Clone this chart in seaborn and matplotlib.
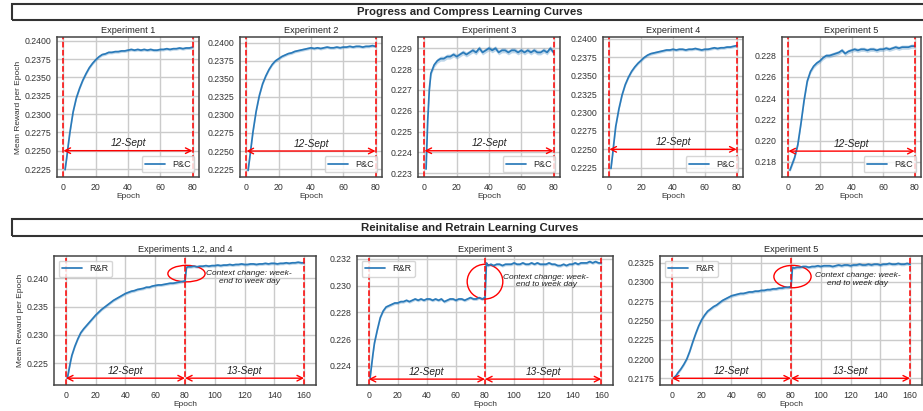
import numpy as np
import pandas as pd
import seaborn as sns
from matplotlib import pyplot as plt
from matplotlib.patches import Ellipse, Rectangle
from matplotlib.ticker import MultipleLocator, FormatStrFormatter

# ---- data ----
top_epochs = [1, 2, 3, 4] + list(range(6, 81, 2))
rr_epochs = [1, 2, 3, 4] + list(range(6, 81, 2)) + [81] + list(range(82, 161, 2))

pc_exp1 = [0.2224, 0.2240, 0.2258, 0.2275, 0.2303, 0.2322, 0.2335, 0.2346, 0.2355, 0.2363,
           0.2369, 0.2374, 0.2378, 0.2381, 0.2382, 0.2384, 0.2384, 0.2385, 0.2385, 0.2386,
           0.2386, 0.2387, 0.2388, 0.2387, 0.2388, 0.2387, 0.2388, 0.2387, 0.2388, 0.2387,
           0.2387, 0.2388, 0.2388, 0.2389, 0.2388, 0.2389, 0.2389, 0.2390, 0.2389, 0.2390,
           0.2390, 0.2391]
pc_exp2 = [0.2223, 0.2240, 0.2258, 0.2276, 0.2305, 0.2327, 0.2343, 0.2354, 0.2363, 0.2370,
           0.2375, 0.2378, 0.2381, 0.2383, 0.2385, 0.2386, 0.2388, 0.2389, 0.2390, 0.2391,
           0.2392, 0.2393, 0.2392, 0.2393, 0.2392, 0.2393, 0.2394, 0.2393, 0.2393, 0.2394,
           0.2393, 0.2394, 0.2394, 0.2395, 0.2394, 0.2395, 0.2395, 0.2394, 0.2395, 0.2395,
           0.2396, 0.2395]
pc_exp3 = [0.2232, 0.2255, 0.2270, 0.2278, 0.2282, 0.2284, 0.2285, 0.2285, 0.2286, 0.2286,
           0.2287, 0.2286, 0.2287, 0.2288, 0.2287, 0.2288, 0.2289, 0.2288, 0.2290, 0.2288,
           0.2289, 0.2290, 0.2289, 0.2290, 0.2288, 0.2289, 0.2289, 0.2288, 0.2289, 0.2289,
           0.2288, 0.2289, 0.2288, 0.2289, 0.2288, 0.2289, 0.2288, 0.2288, 0.2289, 0.2288,
           0.2290, 0.2288]
pc_exp4 = [0.2224, 0.2242, 0.2262, 0.2281, 0.2305, 0.2324, 0.2338, 0.2348, 0.2356, 0.2362,
           0.2367, 0.2371, 0.2375, 0.2378, 0.2380, 0.2381, 0.2382, 0.2383, 0.2384, 0.2385,
           0.2385, 0.2386, 0.2385, 0.2386, 0.2386, 0.2385, 0.2386, 0.2386, 0.2387, 0.2386,
           0.2385, 0.2386, 0.2386, 0.2387, 0.2388, 0.2387, 0.2388, 0.2388, 0.2389, 0.2389,
           0.2390, 0.2391]
pc_exp5 = [0.2172, 0.2176, 0.2180, 0.2184, 0.2196, 0.2216, 0.2238, 0.2256, 0.2265, 0.2270,
           0.2273, 0.2275, 0.2278, 0.2280, 0.2280, 0.2281, 0.2282, 0.2283, 0.2285, 0.2282,
           0.2284, 0.2285, 0.2286, 0.2285, 0.2286, 0.2286, 0.2285, 0.2286, 0.2286, 0.2285,
           0.2286, 0.2286, 0.2287, 0.2286, 0.2287, 0.2288, 0.2287, 0.2288, 0.2288, 0.2288,
           0.2289, 0.2289]

rr_exp124 = [0.2224, 0.2238, 0.2252, 0.2264, 0.2280, 0.2293, 0.2304, 0.2311, 0.2317, 0.2323,
             0.2329, 0.2335, 0.2340, 0.2345, 0.2349, 0.2353, 0.2357, 0.2361, 0.2364, 0.2367,
             0.2370, 0.2373, 0.2375, 0.2377, 0.2378, 0.2380, 0.2381, 0.2382, 0.2384, 0.2384,
             0.2386, 0.2387, 0.2388, 0.2388, 0.2389, 0.2390, 0.2391, 0.2391, 0.2392, 0.2393,
             0.2394, 0.2395, 0.2419, 0.2420, 0.2420, 0.2421, 0.2420, 0.2421, 0.2421, 0.2422,
             0.2421, 0.2422, 0.2422, 0.2423, 0.2422, 0.2423, 0.2423, 0.2424, 0.2423, 0.2424,
             0.2424, 0.2425, 0.2424, 0.2424, 0.2425, 0.2425, 0.2424, 0.2425, 0.2425, 0.2426,
             0.2425, 0.2426, 0.2426, 0.2425, 0.2426, 0.2426, 0.2427, 0.2426, 0.2427, 0.2427,
             0.2428, 0.2427, 0.2427]
rr_exp3 = [0.2231, 0.2240, 0.2249, 0.2257, 0.2267, 0.2276, 0.2281, 0.2284, 0.2285, 0.2286,
           0.2287, 0.2287, 0.2288, 0.2288, 0.2289, 0.2288, 0.2289, 0.2290, 0.2289, 0.2290,
           0.2289, 0.2290, 0.2290, 0.2289, 0.2290, 0.2289, 0.2290, 0.2288, 0.2289, 0.2290,
           0.2290, 0.2289, 0.2290, 0.2290, 0.2289, 0.2290, 0.2291, 0.2290, 0.2290, 0.2291,
           0.2290, 0.2291, 0.2317, 0.2315, 0.2316, 0.2315, 0.2316, 0.2316, 0.2315, 0.2316,
           0.2316, 0.2316, 0.2317, 0.2316, 0.2316, 0.2317, 0.2316, 0.2316, 0.2317, 0.2316,
           0.2317, 0.2316, 0.2316, 0.2316, 0.2317, 0.2316, 0.2316, 0.2315, 0.2315, 0.2316,
           0.2315, 0.2316, 0.2316, 0.2317, 0.2316, 0.2317, 0.2317, 0.2317, 0.2318, 0.2317,
           0.2318, 0.2317, 0.2317]
rr_exp5 = [0.2175, 0.2177, 0.2179, 0.2182, 0.2187, 0.2193, 0.2200, 0.2210, 0.2222, 0.2233,
           0.2243, 0.2251, 0.2257, 0.2262, 0.2265, 0.2268, 0.2270, 0.2273, 0.2276, 0.2278,
           0.2280, 0.2282, 0.2283, 0.2284, 0.2285, 0.2285, 0.2286, 0.2287, 0.2287, 0.2288,
           0.2288, 0.2289, 0.2289, 0.2290, 0.2290, 0.2291, 0.2291, 0.2292, 0.2292, 0.2293,
           0.2293, 0.2294, 0.2319, 0.2318, 0.2319, 0.2319, 0.2320, 0.2320, 0.2319, 0.2320,
           0.2320, 0.2321, 0.2320, 0.2321, 0.2321, 0.2321, 0.2320, 0.2321, 0.2322, 0.2321,
           0.2322, 0.2322, 0.2321, 0.2322, 0.2322, 0.2323, 0.2322, 0.2322, 0.2323, 0.2322,
           0.2323, 0.2323, 0.2322, 0.2323, 0.2323, 0.2324, 0.2323, 0.2323, 0.2324, 0.2323,
           0.2323, 0.2324, 0.2323]

pc_series = [pc_exp1, pc_exp2, pc_exp3, pc_exp4, pc_exp5]
pc_titles = ["Experiment 1", "Experiment 2", "Experiment 3", "Experiment 4", "Experiment 5"]
pc_spread = [0.0002, 0.0002, 0.00012, 0.0002, 0.0002]

rr_series = [rr_exp124, rr_exp3, rr_exp5]
rr_titles = ["Experiments 1,2, and 4", "Experiment 3", "Experiment 5"]
rr_spread = [0.00025, 0.00011, 0.0002]

# ---- layout / annotation settings ----
pc_ylim = [(0.22141, 0.24050), (0.22140, 0.24080), (0.22282, 0.22954), (0.22124, 0.24027), (0.21656, 0.22976)]
pc_ystep = [0.0025, 0.0025, 0.001, 0.0025, 0.002]
pc_fmt = ['%.4f', '%.4f', '%.3f', '%.4f', '%.3f']
pc_arrow_y = [0.2250, 0.2250, 0.22408, 0.2250, 0.2190]

rr_ylim = [(0.2212, 0.2439), (0.22256, 0.23222), (0.21663, 0.23337)]
rr_ystep = [0.005, 0.002, 0.0025]
rr_fmt = ['%.3f', '%.3f', '%.4f']
rr_arrow_y = [0.2224, 0.2230, 0.2175]
rr_ellipse = [(81, 0.2408, 25, 0.0029), (80, 0.2303, 24.5, 0.0026), (81, 0.2307, 25, 0.0029)]
rr_context_xy = [(123, 0.2401), (122, 0.23035), (125, 0.2303)]

W, H = 923, 411
pc_boxes = [(57, 199), (240, 382), (418, 560), (603, 743), (782, 921)]
rr_boxes = [(54, 316), (357, 613), (660, 922)]

LINE = '#2a7ab9'
sns.set_style('whitegrid')
plt.rcParams['font.family'] = ['Liberation Sans', 'DejaVu Sans']
plt.rcParams['axes.edgecolor'] = '#444444'
plt.rcParams['grid.color'] = '#cbcbcb'
plt.rcParams['grid.linewidth'] = 1.0

fig = plt.figure(figsize=(W / 100, H / 100), dpi=100)


def px_axes(x0, x1, ytop, ybot):
    return fig.add_axes([x0 / W, 1 - ybot / H, (x1 - x0) / W, (ybot - ytop) / H])


def banner(ytop, ybot, text):
    fig.add_artist(Rectangle((12 / W, 1 - ybot / H), 1.0, (ybot - ytop) / H,
                             transform=fig.transFigure, fill=False,
                             edgecolor='#333333', lw=1.5))
    fig.text(470 / W, 1 - (ytop + ybot) / 2 / H, text, ha='center', va='center',
             fontsize=8.2, fontweight='bold')


def style_axes(ax, title, ystep, fmt, ylim):
    ax.set_title(title, fontsize=6.6, pad=3)
    ax.set_ylim(*ylim)
    ax.yaxis.set_major_locator(MultipleLocator(ystep))
    ax.yaxis.set_major_formatter(FormatStrFormatter(fmt))
    ax.tick_params(labelsize=6.3, colors='#333333', length=2, pad=2)
    ax.set_xlabel('Epoch', fontsize=6, color='#333333', labelpad=1)
    for s in ax.spines.values():
        s.set_linewidth(1.1)


def draw_curve(ax, epochs, values, spread, label):
    df = pd.DataFrame({'Epoch': epochs, 'reward': values})
    sns.lineplot(data=df, x='Epoch', y='reward', ax=ax, color=LINE, lw=1.25, label=label)
    vals = np.array(values)
    ax.fill_between(epochs, vals - spread, vals + spread, color=LINE, alpha=0.3, lw=0)


def span_arrow(ax, x0, x1, y, text):
    ax.annotate('', xy=(x1, y), xytext=(x0, y),
                arrowprops=dict(arrowstyle='<->', color='red', lw=1.0,
                                shrinkA=0, shrinkB=0, mutation_scale=10))
    ax.annotate(text, ((x0 + x1) / 2, y), xytext=(0, 5.3), textcoords='offset points',
                ha='center', va='center', fontsize=7.3, style='italic', color='#222222')


banner(4, 20, "Progress and Compress Learning Curves")
banner(219, 236, "Reinitalise and Retrain Learning Curves")

# top row: progress and compress
for i, (x0, x1) in enumerate(pc_boxes):
    ax = px_axes(x0, x1, 37, 177)
    draw_curve(ax, top_epochs, pc_series[i], pc_spread[i], 'P&C')
    style_axes(ax, pc_titles[i], pc_ystep[i], pc_fmt[i], pc_ylim[i])
    ax.set_xlim(-4, 84)
    for xv in [0, 80]:
        ax.axvline(xv, color='red', ls='--', lw=1.1)
    span_arrow(ax, 0, 80, pc_arrow_y[i], '12-Sept')
    ax.set_ylabel('Mean Reward per Epoch' if i == 0 else '', fontsize=6, color='#333333', labelpad=2)
    ax.legend(loc='lower right', fontsize=6.5, handlelength=2.2, borderpad=0.4)

# bottom row: reinitialise and retrain
for i, (x0, x1) in enumerate(rr_boxes):
    ax = px_axes(x0, x1, 256, 385)
    draw_curve(ax, rr_epochs, rr_series[i], rr_spread[i], 'R&R')
    style_axes(ax, rr_titles[i], rr_ystep[i], rr_fmt[i], rr_ylim[i])
    ax.set_xlim(-8, 168)
    for xv in [0, 80, 160]:
        ax.axvline(xv, color='red', ls='--', lw=1.1)
    span_arrow(ax, 0, 80, rr_arrow_y[i], '12-Sept')
    span_arrow(ax, 80, 160, rr_arrow_y[i], '13-Sept')
    ex, ey, ew, eh = rr_ellipse[i]
    ax.add_patch(Ellipse((ex, ey), ew, eh, fill=False, edgecolor='red', lw=1.0))
    cx, cy = rr_context_xy[i]
    ax.text(cx, cy, 'Context change: week-\nend to week day', ha='center', va='center',
            fontsize=6, style='italic', color='#222222', linespacing=1.1)
    ax.set_ylabel('Mean Reward per Epoch' if i == 0 else '', fontsize=6, color='#333333', labelpad=2)
    ax.legend(loc='upper left', fontsize=6.5, handlelength=2.2, borderpad=0.4)

fig.savefig('out.png', dpi=100)
